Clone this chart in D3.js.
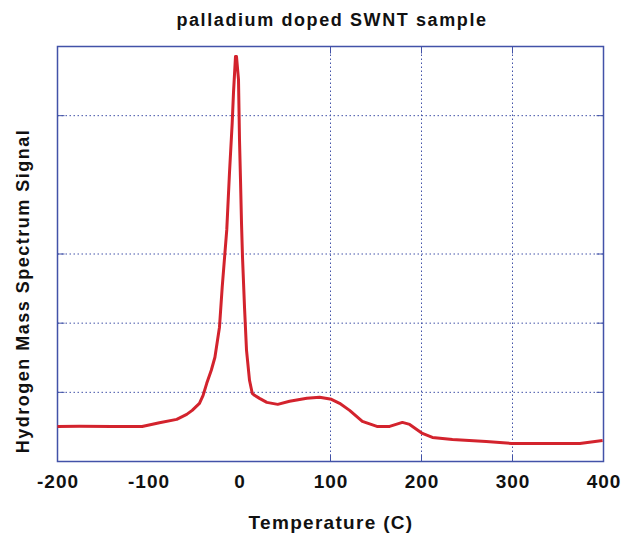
<!DOCTYPE html>
<html>
<head>
<meta charset="utf-8">
<script src="https://cdn.jsdelivr.net/npm/d3@7"></script>
<style>
  body { margin: 0; background: #fff; }
  text { font-family: "Liberation Sans", Arial, sans-serif; font-weight: bold; fill: #111; }
</style>
</head>
<body>
<div id="chart"></div>
<script>
const temperature = [-200, -176, -140, -107, -88, -69, -58, -52, -44, -40, -36, -31, -27, -22, -19, -14, -11, -8, -6.6, -4.4, -3.3, -1.1, 0, 1.1, 2.2, 3.3, 5.5, 7.7, 11, 14, 16.5, 22, 30, 42, 55, 74, 88, 101, 110, 121, 135, 151, 165, 179, 187, 201, 212, 234, 271, 299, 344, 374, 399];
const signal = [0.507, 0.51, 0.505, 0.507, 0.561, 0.609, 0.681, 0.739, 0.841, 0.957, 1.13, 1.319, 1.507, 1.942, 2.522, 3.348, 4.174, 4.899, 5.333, 5.855, 5.855, 5.522, 4.652, 4.072, 3.449, 2.957, 2.232, 1.609, 1.174, 0.986, 0.957, 0.913, 0.855, 0.826, 0.87, 0.913, 0.928, 0.899, 0.841, 0.739, 0.58, 0.507, 0.507, 0.565, 0.536, 0.406, 0.348, 0.319, 0.29, 0.261, 0.261, 0.261, 0.304];
const xTickLabels = [-200, -100, 0, 100, 200, 300, 400];
const xGrid = [100, 200, 300];
const yGrid = [1, 2, 3, 5];

function createLineChart(container) {
    const width = 621;
    const height = 536;
    const margin = { top: 46.5, right: 17.5, bottom: 74.5, left: 57.5 };
    const axisColor = "#4252a8";

    const svg = d3.select(container)
        .append("svg")
        .attr("width", width)
        .attr("height", height);

    const xScale = d3.scaleLinear()
        .domain([-200, 400])
        .range([margin.left, width - margin.right]);

    const yScale = d3.scaleLinear()
        .domain([0, 6])
        .range([height - margin.bottom, margin.top]);

    const x0 = xScale(-200), x1 = xScale(400);
    const y0 = yScale(0), y1 = yScale(6);

    // dotted grid
    svg.selectAll(".vgrid")
        .data(xGrid)
        .enter().append("line")
        .attr("x1", d => xScale(d)).attr("x2", d => xScale(d))
        .attr("y1", y1).attr("y2", y0)
        .attr("stroke", axisColor)
        .attr("stroke-width", 1)
        .attr("stroke-dasharray", "1.5,2.5");

    svg.selectAll(".hgrid")
        .data(yGrid)
        .enter().append("line")
        .attr("x1", x0).attr("x2", x1)
        .attr("y1", d => yScale(d)).attr("y2", d => yScale(d))
        .attr("stroke", axisColor)
        .attr("stroke-width", 1)
        .attr("stroke-dasharray", "1.5,2.5");

    // tick marks on all four sides
    const tickLen = 7;
    xGrid.forEach(d => {
        svg.append("line").attr("x1", xScale(d)).attr("x2", xScale(d))
            .attr("y1", y0).attr("y2", y0 - tickLen).attr("stroke", axisColor);
        svg.append("line").attr("x1", xScale(d)).attr("x2", xScale(d))
            .attr("y1", y1).attr("y2", y1 + tickLen).attr("stroke", axisColor);
    });
    yGrid.forEach(d => {
        svg.append("line").attr("x1", x0).attr("x2", x0 + tickLen)
            .attr("y1", yScale(d)).attr("y2", yScale(d)).attr("stroke", axisColor);
        svg.append("line").attr("x1", x1).attr("x2", x1 - tickLen)
            .attr("y1", yScale(d)).attr("y2", yScale(d)).attr("stroke", axisColor);
    });

    // frame
    svg.append("rect")
        .attr("x", x0).attr("y", y1)
        .attr("width", x1 - x0).attr("height", y0 - y1)
        .attr("fill", "none")
        .attr("stroke", axisColor)
        .attr("stroke-width", 1.5);

    const line = d3.line()
        .x((d, i) => xScale(temperature[i]))
        .y(d => yScale(d));

    svg.append("path")
        .datum(signal)
        .attr("fill", "none")
        .attr("stroke", "#d3232d")
        .attr("stroke-width", 3)
        .attr("stroke-linejoin", "round")
        .attr("d", line);

    svg.selectAll(".xlabel")
        .data(xTickLabels)
        .enter().append("text")
        .attr("x", d => xScale(d) + 0.5)
        .attr("y", 488)
        .attr("text-anchor", "middle")
        .style("font-size", "19px")
        .style("letter-spacing", "1px")
        .text(d => d);

    svg.append("text")
        .attr("x", 332)
        .attr("y", 26)
        .attr("text-anchor", "middle")
        .style("font-size", "18px")
        .style("letter-spacing", "1.6px")
        .text("palladium doped SWNT sample");

    svg.append("text")
        .attr("x", 331)
        .attr("y", 529)
        .attr("text-anchor", "middle")
        .style("font-size", "19px")
        .style("letter-spacing", "1.3px")
        .text("Temperature (C)");

    svg.append("text")
        .attr("transform", "translate(29,291) rotate(-90)")
        .attr("text-anchor", "middle")
        .style("font-size", "18px")
        .style("letter-spacing", "1.5px")
        .text("Hydrogen Mass Spectrum Signal");
}

createLineChart("#chart");
</script>
</body>
</html>
